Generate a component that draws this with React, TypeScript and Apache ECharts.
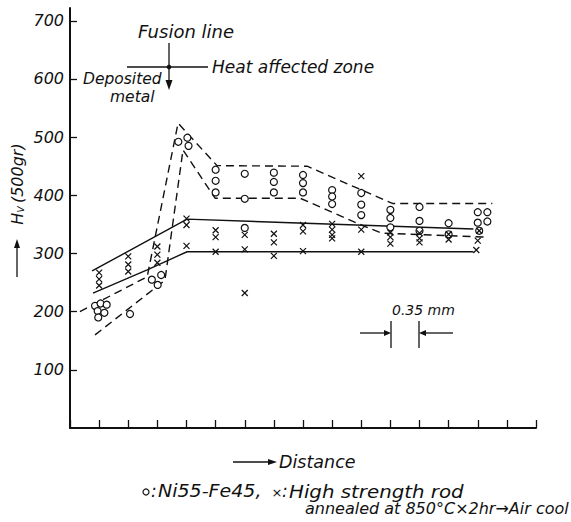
import React, { useEffect, useRef } from "react";
import * as echarts from "echarts";

// Tick values on the hardness axis
const yTicks = [100, 200, 300, 400, 500, 600, 700];

// Ni55-Fe45 measurements (o): [distance step, Hv]
const niPoints: [number, number][] = [
  [0.86, 210], [1.05, 214], [1.26, 212], [0.95, 201], [1.18, 198], [0.97, 190], [2.06, 196],
  [2.81, 255], [3.13, 263], [3.01, 246],
  [3.72, 492], [4.03, 499], [4.07, 485],
  [5, 444], [5, 425], [5, 405],
  [6, 437], [6, 394], [6, 344],
  [7, 439], [7, 423], [7, 405],
  [8, 435], [8, 421], [8, 405],
  [9, 409], [9, 398], [9, 385],
  [10, 404], [10, 384], [10, 366],
  [11, 375], [11, 361], [11, 345],
  [12, 380], [12, 356], [12, 339],
  [13, 352], [13, 333],
  [14, 371], [14.33, 371], [14, 353], [14.33, 355], [14.05, 339],
];

// High strength rod measurements (x)
const hsPoints: [number, number][] = [
  [1, 267], [1, 256], [1, 245],
  [2, 295], [2, 281], [2, 269],
  [3, 312], [3, 298], [3, 284],
  [4, 360], [4, 349], [4, 313],
  [5, 340], [5, 328], [5, 303],
  [6, 332], [6, 307], [6, 232],
  [7, 334], [7, 319], [7, 296],
  [8, 349], [8, 338], [8, 304],
  [9, 351], [9, 341], [9, 332], [9, 326],
  [10, 433], [10, 341], [10, 303],
  [11, 336], [11, 328], [11, 317],
  [12, 335], [12, 326], [12, 319],
  [13, 333], [13, 324],
  [14.05, 339], [14, 322], [13.95, 306],
];

// Envelopes (dashed: Ni55-Fe45, solid: high strength rod)
const niUpper: [number, number][] = [
  [0.34, 200], [2.65, 260], [3.71, 524], [5.05, 451], [8.14, 450], [11.07, 386], [14.5, 386],
];
const niLower: [number, number][] = [
  [0.86, 160], [3.26, 254], [3.88, 478], [4.98, 395], [7.9, 395], [9.86, 352], [10.69, 335], [14.36, 328],
];
const hsUpper: [number, number][] = [[0.76, 270], [4.02, 359], [13.85, 342]];
const hsLower: [number, number][] = [[0.79, 232], [2.65, 272], [4.02, 303], [13.85, 303]];

const FONT = "DejaVu Sans";
const INK = "#111";

const txt = (x: number, y: number, text: string, size = 15, align = "left", sx = 1) => ({
  type: "text",
  x,
  y,
  scaleX: sx,
  style: {
    text,
    fill: INK,
    font: `italic ${size}px "${FONT}"`,
    textAlign: align,
    textVerticalAlign: "middle",
  },
  silent: true,
});

const seg = (x1: number, y1: number, x2: number, y2: number, w = 1.3) => ({
  type: "line",
  shape: { x1, y1, x2, y2 },
  style: { stroke: INK, lineWidth: w },
  silent: true,
});

const head = (pts: number[][]) => ({
  type: "polygon",
  shape: { points: pts },
  style: { fill: INK },
  silent: true,
});

export default function App() {
  const ref = useRef<HTMLDivElement>(null);
  useEffect(() => {
    if (!ref.current) return;
    const chart = echarts.init(ref.current, undefined, { renderer: "svg" });
    const dashed = { color: INK, width: 1.4, type: [8, 5] as any };
    const solid = { color: INK, width: 1.4 };
    chart.setOption({
      animation: false,
      backgroundColor: "#fff",
      grid: { left: 70, right: 35, top: 8, bottom: 94, containLabel: false },
      xAxis: {
        type: "value",
        min: 0,
        max: 16,
        interval: 1,
        axisLine: { show: true, lineStyle: { color: INK, width: 2 } },
        axisTick: { show: true, inside: true, length: 8, lineStyle: { color: INK, width: 1.3 } },
        axisLabel: { show: false },
        splitLine: { show: false },
      },
      yAxis: {
        type: "value",
        min: 0,
        max: 722,
        interval: 100,
        axisLine: { show: true, lineStyle: { color: INK, width: 2 } },
        axisTick: {
          show: true,
          inside: true,
          length: 7,
          customValues: yTicks,
          lineStyle: { color: INK, width: 1.3 },
        },
        axisLabel: {
          customValues: yTicks,
          margin: 6,
          color: INK,
          fontSize: 16,
          fontStyle: "italic",
          fontFamily: FONT,
          formatter: (v: number) => (v === 0 || v % 100 !== 0 ? "" : String(v)),
        },
        splitLine: { show: false },
      },
      series: [
        { type: "line", data: niUpper, symbol: "none", lineStyle: dashed, z: 2 },
        { type: "line", data: niLower, symbol: "none", lineStyle: dashed, z: 2 },
        { type: "line", data: hsUpper, symbol: "none", lineStyle: solid, z: 2 },
        { type: "line", data: hsLower, symbol: "none", lineStyle: solid, z: 2 },
        {
          type: "scatter",
          data: niPoints,
          symbol: "circle",
          symbolSize: 7,
          itemStyle: { color: "#fff", borderColor: INK, borderWidth: 1.2, opacity: 1 },
          z: 4,
        },
        {
          type: "scatter",
          data: hsPoints,
          symbol: "path://M0,0L10,10M10,0L0,10",
          symbolSize: 6,
          itemStyle: { color: "none", borderColor: INK, borderWidth: 1.2, opacity: 1 },
          z: 5,
        },
      ],
      graphic: [
        // fusion line marker
        txt(138, 31, "Fusion line", 18),
        seg(169, 43, 169, 82),
        head([[165.5, 80], [172.5, 80], [169, 90]]),
        seg(127, 67, 208, 67),
        { type: "circle", shape: { cx: 169, cy: 67, r: 2.3 }, style: { fill: INK }, silent: true },
        txt(212, 67, "Heat affected zone", 17),
        txt(83, 79, "Deposited", 15.5),
        txt(110, 97, "metal", 15.5),
        // y axis title
        {
          type: "text",
          x: 17,
          y: 184,
          rotation: Math.PI / 2,
          style: {
            text: "{h|H}{s|V} {h|(500gr)}",
            fill: INK,
            textAlign: "center",
            textVerticalAlign: "middle",
            rich: {
              h: { font: `italic 16px "${FONT}"`, fill: INK },
              s: { font: `italic 9px "${FONT}"`, fill: INK, padding: [8, 0, 0, 0] },
            },
          },
          silent: true,
        },
        seg(17, 277, 17, 246),
        head([[14, 248], [20, 248], [17, 239]]),
        // 0.35 mm scale mark
        txt(392, 310, "0.35 mm", 14),
        seg(391, 321, 391, 348),
        seg(419, 321, 419, 348),
        seg(360, 333, 386, 333),
        head([[384, 330], [384, 336], [391, 333]]),
        seg(424, 333, 453, 333),
        head([[426, 330], [426, 336], [419, 333]]),
        // x axis title
        seg(233, 462, 270, 462),
        head([[268, 459], [268, 465], [277, 462]]),
        txt(279, 462, "Distance", 17.5),
        // legend
        { type: "circle", shape: { cx: 146, cy: 492, r: 3 }, style: { fill: "none", stroke: INK, lineWidth: 1.2 }, silent: true },
        txt(151, 491, ":", 17),
        txt(158, 491, "Ni55-Fe45,", 17, "left", 1.12),
        txt(277, 492, "×", 13, "center"),
        txt(282, 491, ":", 17),
        txt(289, 491, "High strength rod", 18, "left", 1.1),
        txt(305, 508, "annealed at 850°C×2hr→Air cool", 16),
      ],
    });
    return () => chart.dispose();
  }, []);
  return (
    <div
      ref={ref}
      style={{ position: "fixed", left: 0, top: 0, width: 571, height: 522, background: "#fff" }}
    />
  );
}
